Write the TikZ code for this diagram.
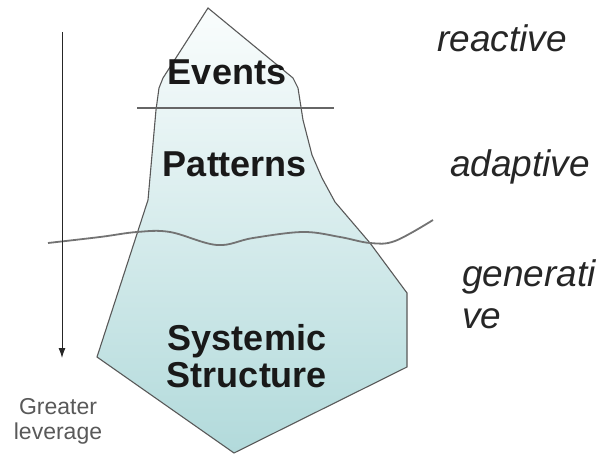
\documentclass[tikz,border=0pt]{standalone}
\usepackage{fontspec}
\setmainfont{Liberation Sans}
\usetikzlibrary{arrows.meta}
\definecolor{icetop}{RGB}{250,253,253}
\definecolor{icebot}{RGB}{178,218,219}

\begin{document}
\begin{tikzpicture}[x=1pt,y=-1pt,
	layer/.style={font=\fontsize{36}{37}\selectfont\bfseries,text=black!90,align=center,inner sep=0pt},
	mode/.style={font=\fontsize{37}{42}\selectfont\itshape,text=black!85,align=left,inner sep=0pt,anchor=base west}]
	\useasboundingbox (0,0) rectangle (600,457);
	% the iceberg
	\draw[black!65,line width=1.1pt,top color=icetop,bottom color=icebot]
		(208,8) -- (293,78) -- (298,88) -- (303,120) -- (312,155) -- (322,178) -- (335,202)
		-- (370,243) -- (407,293) -- (407,367) -- (234,453) -- (97,357) -- (148,200)
		-- (156,110) -- (159,88) -- (163,78) -- cycle;
	\draw[black!60,line width=1.4pt] (137,108) -- (334,108);
	\draw[black!55,line width=1.8pt] plot[smooth,tension=.6] coordinates
		{(48,243) (100,237) (137,232) (170,232) (217,245) (253,238) (303,232) (340,237) (370,243) (395,241) (433,220)};
	\node[layer] (events) at (227,72) {Events};
	\node[layer] (patterns) at (235,164) {Patterns};
	\node[layer] (systemic) at (247,356) {Systemic\\Structure};
	\node[mode] (reactive) at (437,52) {reactive};
	\node[mode] (adaptive) at (450,177) {adaptive};
	\node[mode] (generative) at (462,328) {generati\\ve};
	% leverage arrow
	\coordinate (lvtop) at (62,32);
	\coordinate (lvtip) at (62,358);
	\draw[black!85,line width=1pt,-{Latex[length=10pt,width=7pt]}] (lvtop) -- (lvtip);
	\node[font=\fontsize{23}{25}\selectfont,text=black!65,align=center] (leverage) at (58,421) {Greater\\leverage};
\end{tikzpicture}
\end{document}
